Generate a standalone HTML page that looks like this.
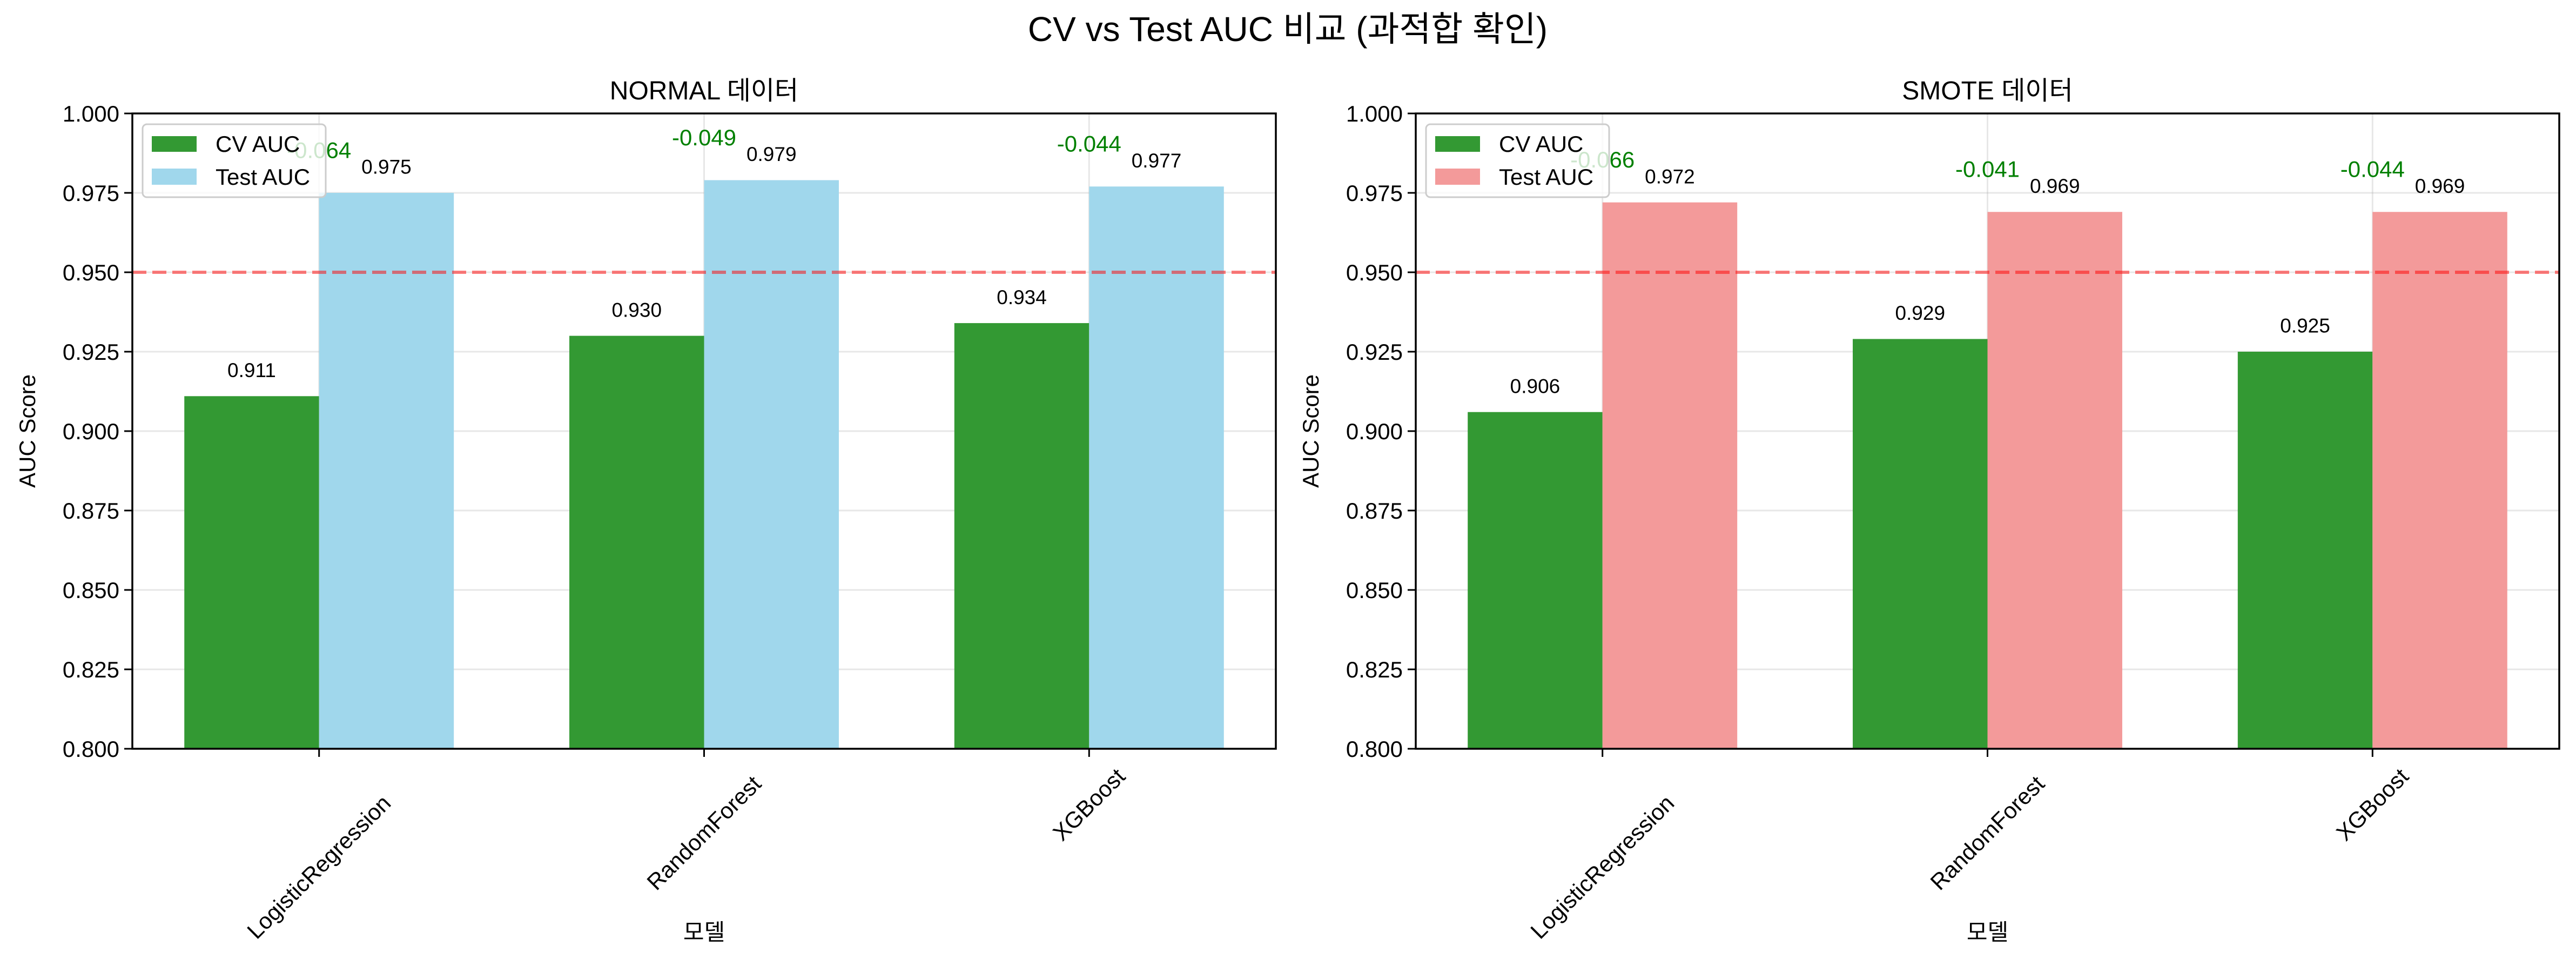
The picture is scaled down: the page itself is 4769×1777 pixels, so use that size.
<!DOCTYPE html>
<html><head><meta charset="utf-8">
<style>
html,body{margin:0;padding:0;background:#fff;}
svg{display:block;font-family:"Liberation Sans","Noto Sans CJK KR",sans-serif;}
</style></head>
<body>
<svg id="fig" width="4769" height="1777" viewBox="0 0 4769 1777" xmlns="http://www.w3.org/2000/svg">
<rect width="4769" height="1777" fill="#fff"/>
<text x="2384" y="76" font-size="64" text-anchor="middle" fill="#000">CV vs Test AUC 비교 (과적합 확인)</text>
</svg>
<script>
const categories = ["LogisticRegression", "RandomForest", "XGBoost"];
const normalCv = [0.911, 0.930, 0.934];
const normalTest = [0.975, 0.979, 0.977];
const normalDiffLabels = ["-0.064", "-0.049", "-0.044"];
const smoteCv = [0.906, 0.929, 0.925];
const smoteTest = [0.972, 0.969, 0.969];
const smoteDiffLabels = ["-0.066", "-0.041", "-0.044"];
const yTicks = [0.800, 0.825, 0.850, 0.875, 0.900, 0.925, 0.950, 0.975, 1.000];
const refLine = 0.95;

const NS = "http://www.w3.org/2000/svg";
const svg = document.getElementById('fig');
function mk(tag, attrs, parent, text){
  const e = document.createElementNS(NS, tag);
  for (const k in attrs) e.setAttribute(k, attrs[k]);
  if (text !== undefined) e.textContent = text;
  (parent || svg).appendChild(e);
  return e;
}

function panel(x0, title, cv, test, diffs, testColor, key){
  const x1 = x0 + 2117, yTop = 210, yBot = 1386;
  const xmin = -0.485, xmax = 2.485, ymin = 0.8, ymax = 1.0;
  const X = v => x0 + (v - xmin) / (xmax - xmin) * (x1 - x0);
  const Y = v => yBot - (v - ymin) / (ymax - ymin) * (yBot - yTop);
  const bw = 0.35;
  const g = mk('g', {});
  
  

  // grid
  yTicks.forEach(t => {
    const l = mk('line', {x1: x0, x2: x1, y1: Y(t), y2: Y(t), stroke: '#b0b0b0', 'stroke-opacity': 0.3, 'stroke-width': 3}, g);
    
    
  });
  categories.forEach((c, i) => {
    const l = mk('line', {x1: X(i), x2: X(i), y1: yTop, y2: yBot, stroke: '#b0b0b0', 'stroke-opacity': 0.3, 'stroke-width': 3}, g);
    
    
  });

  // bars
  categories.forEach((c, i) => {
    const b1 = mk('rect', {x: X(i - bw), y: Y(cv[i]), width: X(i) - X(i - bw), height: Y(ymin) - Y(cv[i]), fill: '#339933'}, g);
    
    
    const b2 = mk('rect', {x: X(i), y: Y(test[i]), width: X(i + bw) - X(i), height: Y(ymin) - Y(test[i]), fill: testColor}, g);
    
    
    const t1 = mk('text', {x: X(i - bw / 2), y: Y(cv[i] + 0.006), 'font-size': 37, 'text-anchor': 'middle', fill: '#000'}, g, cv[i].toFixed(3));
    
    
    const t2 = mk('text', {x: X(i + bw / 2), y: Y(test[i] + 0.006), 'font-size': 37, 'text-anchor': 'middle', fill: '#000'}, g, test[i].toFixed(3));
    
    
    const d = mk('text', {x: X(i), y: Y(Math.max(cv[i], test[i]) + 0.011), 'font-size': 42, 'text-anchor': 'middle', fill: '#008000'}, g, diffs[i]);
    
    
  });

  // ref line
  const rl = mk('line', {x1: x0, x2: x1, y1: Y(refLine), y2: Y(refLine), stroke: '#ff0000', 'stroke-opacity': 0.5, 'stroke-width': 6, 'stroke-dasharray': '26 11'}, g);
  
  

  // axes frame
  const fr = mk('rect', {x: x0, y: yTop, width: x1 - x0, height: yBot - yTop, fill: 'none', stroke: '#000', 'stroke-width': 3.5}, g);
  
  

  // y ticks
  yTicks.forEach(t => {
    const l = mk('line', {x1: x0 - 15, x2: x0, y1: Y(t), y2: Y(t), stroke: '#000', 'stroke-width': 3}, g);
    
    
    const tx = mk('text', {x: x0 - 24, y: Y(t) + 15, 'font-size': 42, 'text-anchor': 'end', fill: '#000'}, g, t.toFixed(3));
    
    
  });
  // x ticks
  categories.forEach((c, i) => {
    const l = mk('line', {x1: X(i), x2: X(i), y1: yBot, y2: yBot + 15, stroke: '#000', 'stroke-width': 3}, g);
    
    
    const cy = yBot + 30 + c.length * 10.5;
    const tx = mk('text', {x: X(i), y: cy + 14, 'font-size': 42, 'text-anchor': 'middle', fill: '#000', transform: `rotate(-45 ${X(i)} ${cy})`}, g, c);
    
    
  });

  const ti = mk('text', {x: (x0 + x1) / 2, y: 184, 'font-size': 48, 'text-anchor': 'middle', fill: '#000'}, g, title);
  
  
  const xl = mk('text', {x: (x0 + x1) / 2, y: 1740, 'font-size': 42, 'text-anchor': 'middle', fill: '#000'}, g, '모델');
  
  
  const yl = mk('text', {x: x0 - 180, y: (yTop + yBot) / 2, 'font-size': 42, 'text-anchor': 'middle', fill: '#000', transform: `rotate(-90 ${x0 - 180} ${(yTop + yBot) / 2})`}, g, 'AUC Score');
  
  

  // legend
  const lg = mk('g', {}, g);
  
  
  mk('rect', {x: x0 + 19, y: 230, width: 339, height: 135, rx: 8, fill: '#fff', 'fill-opacity': 0.8, stroke: '#cccccc', 'stroke-width': 3}, lg);
  const p1 = mk('rect', {x: x0 + 36, y: 252, width: 83, height: 29, fill: '#339933'}, lg);
  
  
  const l1 = mk('text', {x: x0 + 154, y: 281, 'font-size': 42, fill: '#000'}, lg, 'CV AUC');
  
  
  const p2 = mk('rect', {x: x0 + 36, y: 312, width: 83, height: 30, fill: testColor}, lg);
  
  
  const l2 = mk('text', {x: x0 + 154, y: 342, 'font-size': 42, fill: '#000'}, lg, 'Test AUC');
  
  
}

panel(245, 'NORMAL 데이터', normalCv, normalTest, normalDiffLabels, '#a0d7ec', 'normal');
panel(2621, 'SMOTE 데이터', smoteCv, smoteTest, smoteDiffLabels, '#f39a9a', 'smote');
</script>
</body></html>
